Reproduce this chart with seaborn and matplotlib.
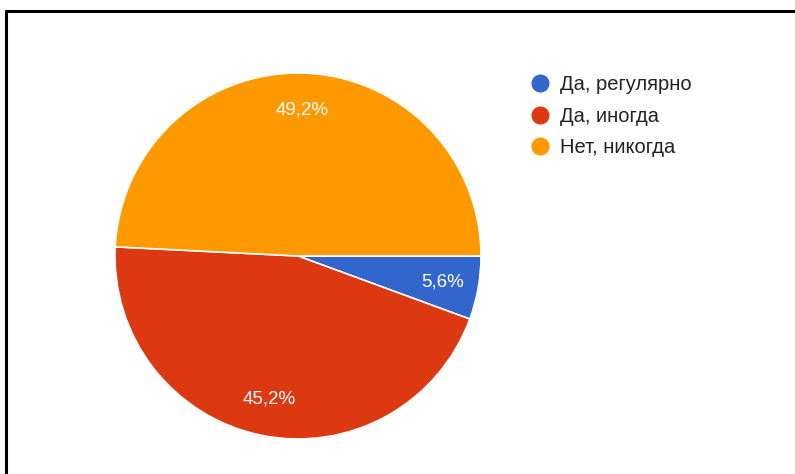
import matplotlib
matplotlib.use("Agg")
import matplotlib.pyplot as plt
from matplotlib.lines import Line2D
import seaborn as sns

# survey answers and their shares (percent)
labels = ["Да, регулярно", "Да, иногда", "Нет, никогда"]
shares = [5.6, 45.2, 49.2]
colors = ["#3366cc", "#dc3912", "#ff9900"]

sns.set_theme(style="white")
plt.rcParams["font.family"] = ["Liberation Sans", "DejaVu Sans"]

W, H = 795, 474
fig = plt.figure(figsize=(W / 100, H / 100), dpi=100)
fig.patch.set_facecolor("white")

# pie centred at (298, 256) px, radius 183 px
cx, cy, r = 298, 256, 183
ax = fig.add_axes([(cx - r) / W, (H - cy - r) / H, 2 * r / W, 2 * r / H])
wedges, _, autotexts = ax.pie(
    shares, colors=colors, startangle=0, counterclock=False,
    autopct=lambda p: f"{p:.1f}%".replace(".", ","), pctdistance=0.8,
    wedgeprops=dict(edgecolor="white", linewidth=1.2),
    textprops=dict(color="white", fontsize=13.5),
)
ax.set_xlim(-1, 1)
ax.set_ylim(-1, 1)
ax.set_aspect("equal")
ax.axis("off")

handles = [Line2D([], [], marker="o", linestyle="", markersize=12,
                  markerfacecolor=c, markeredgecolor=c) for c in colors]
fig.legend(handles, labels, loc="upper left",
           bbox_to_anchor=(511 / W, 1 - 57 / H), frameon=False,
           fontsize=14.5, handletextpad=0.42, labelspacing=0.62,
           handlelength=1.1, labelcolor="#222222")

# screenshot frame: only top and left edges are visible
fig.add_artist(Line2D([6 / W, 1], [1 - 11 / H, 1 - 11 / H], color="black", lw=2.2))
fig.add_artist(Line2D([6 / W, 6 / W], [0, 1 - 11 / H], color="black", lw=2.2))

fig.savefig("out.png", dpi=100)
